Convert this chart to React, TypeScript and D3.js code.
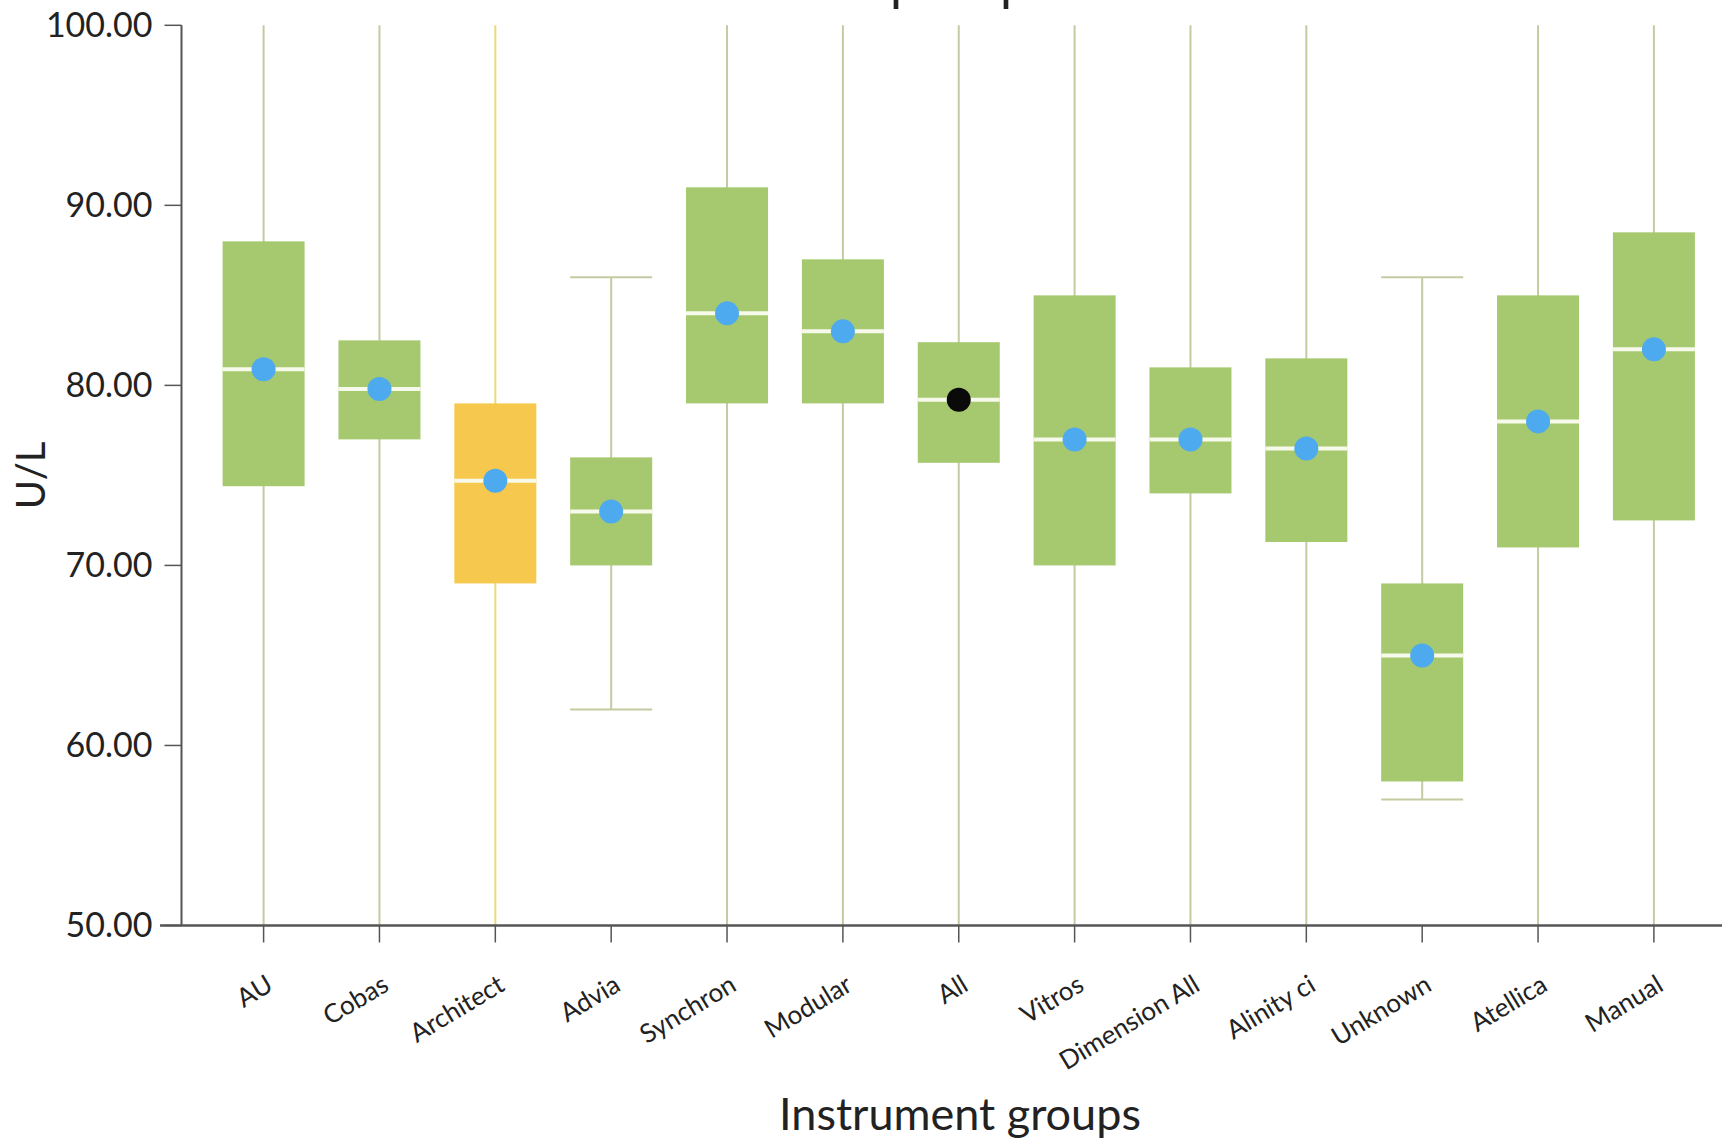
import React from "react";
import * as d3 from "d3";

const categories = ["AU", "Cobas", "Architect", "Advia", "Synchron", "Modular", "All", "Vitros", "Dimension All", "Alinity ci", "Unknown", "Atellica", "Manual"];
const q3Values = [88, 82.5, 79, 76, 91, 87, 82.4, 85, 81, 81.5, 69, 85, 88.5];
const q1Values = [74.4, 77, 69, 70, 79, 79, 75.7, 70, 74, 71.3, 58, 71, 72.5];
const medianValues = [80.9, 79.8, 74.7, 73, 84, 83, 79.2, 77, 77, 76.5, 65, 78, 82];
const meanValues = [80.9, 79.8, 74.7, 73, 84, 83, 79.2, 77, 77, 76.5, 65, 78, 82];
// null = whisker runs beyond the visible axis range
const whiskerHigh: (number | null)[] = [null, null, null, 86, null, null, null, null, null, null, 86, null, null];
const whiskerLow: (number | null)[] = [null, null, null, 62, null, null, null, null, null, null, 57, null, null];
const boxKind = ["normal", "normal", "highlight", "normal", "normal", "normal", "normal", "normal", "normal", "normal", "normal", "normal", "normal"];
const meanKind = ["group", "group", "group", "group", "group", "group", "overall", "group", "group", "group", "group", "group", "group"];
const yTicks = [50, 60, 70, 80, 90, 100];

const W = 1722;
const H = 1145;
const FONT = "Lato, 'Open Sans', sans-serif";

export default function App() {
  const y = d3.scaleLinear().domain([50, 100]).range([925.5, 25.3]);
  const x = d3.scalePoint<string>().domain(categories).range([263.6, 1653.9]);
  const axisX = 181.5;
  const axisY = y(50);
  const boxW = 82;
  const fmt = d3.format(".2f");
  const [yMin, yMax] = y.domain();

  return (
    <svg width={W} height={H} style={{ position: "absolute", left: 0, top: 0, background: "#fff" }} fontFamily={FONT}>
      <text x={937} y={0} textAnchor="middle" fontSize={52} fill="#222">Alkaline phosphatase</text>

      {/* whiskers */}
      {categories.map((c, i) => {
        const hi = whiskerHigh[i];
        const lo = whiskerLow[i];
        const cx = x(c)!;
        const col = boxKind[i] === "highlight" ? "#ecd97a" : "#c3cba2";
        return (
          <g key={"w" + c}>
            <line x1={cx} x2={cx} y1={y(hi ?? yMax)} y2={y(lo ?? yMin)} stroke={col} strokeWidth={2} />
            {hi !== null && <line x1={cx - boxW / 2} x2={cx + boxW / 2} y1={y(hi)} y2={y(hi)} stroke={col} strokeWidth={2} />}
            {lo !== null && <line x1={cx - boxW / 2} x2={cx + boxW / 2} y1={y(lo)} y2={y(lo)} stroke={col} strokeWidth={2} />}
          </g>
        );
      })}

      {/* boxes */}
      {categories.map((c, i) => {
        const cx = x(c)!;
        const fill = boxKind[i] === "highlight" ? "#f6c94e" : "#a6c96f";
        return (
          <g key={"b" + c}>
            <rect x={cx - boxW / 2} y={y(q3Values[i])} width={boxW} height={y(q1Values[i]) - y(q3Values[i])} fill={fill} />
            <line x1={cx - boxW / 2} x2={cx + boxW / 2} y1={y(medianValues[i])} y2={y(medianValues[i])} stroke="#f7f9ea" strokeWidth={4} />
            <circle cx={cx} cy={y(meanValues[i])} r={12} fill={meanKind[i] === "overall" ? "#0a0a0a" : "#4eaaee"} />
          </g>
        );
      })}

      {/* y axis */}
      <line x1={axisX} x2={axisX} y1={y(100)} y2={axisY} stroke="#555" strokeWidth={2} />
      {yTicks.map((t) => (
        <g key={"yt" + t}>
          <line x1={axisX - 17} x2={axisX} y1={y(t)} y2={y(t)} stroke="#555" strokeWidth={1.5} />
          <text x={axisX - 29} y={y(t)} dy="0.35em" textAnchor="end" fontSize={34} fill="#222">{fmt(t)}</text>
        </g>
      ))}
      <text transform={`translate(45, ${(y(100) + axisY) / 2}) rotate(-90)`} textAnchor="middle" fontSize={40} fill="#222">U/L</text>

      {/* x axis */}
      <line x1={160} x2={W} y1={axisY} y2={axisY} stroke="#555" strokeWidth={2.5} />
      {categories.map((c) => {
        const cx = x(c)!;
        return (
          <g key={"xt" + c}>
            <line x1={cx} x2={cx} y1={axisY} y2={axisY + 17} stroke="#555" strokeWidth={1.5} />
            <text transform={`translate(${cx + 11}, ${axisY + 64}) rotate(-31)`} textAnchor="end" fontSize={26} fill="#222">{c}</text>
          </g>
        );
      })}
      <text x={960} y={1130} textAnchor="middle" fontSize={45} fill="#222">Instrument groups</text>
    </svg>
  );
}
